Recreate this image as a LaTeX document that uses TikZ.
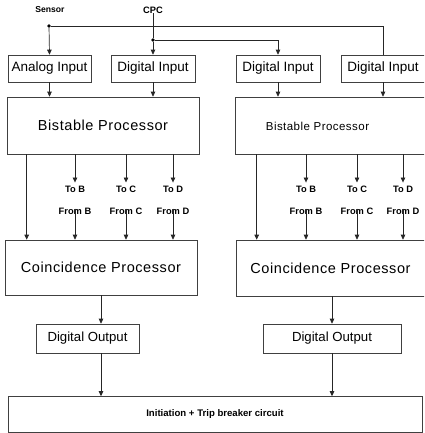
\documentclass[tikz,border=0pt]{standalone}
\usepackage{fontspec}
\setmainfont{Liberation Sans}
\newfontfamily\lsfont[LetterSpace=4]{Liberation Sans}
\usetikzlibrary{arrows.meta}
\tikzset{
  box/.style={draw=black!75, line width=0.6pt, inner sep=0pt, rectangle},
  arr/.style={-{Triangle[length=5pt,width=4.5pt]}, line width=0.7pt, black!85},
  ln/.style={line width=0.7pt, black!85},
  bigtxt/.style={font=\lsfont\fontsize{14.5}{16}\selectfont},
  midtxt/.style={font=\fontsize{13.5}{15}\selectfont},
  smalltxt/.style={font=\bfseries\fontsize{9.3}{11}\selectfont, inner sep=0pt},
  dot/.style={circle, fill=black, inner sep=0pt, minimum size=3.6pt}
}
\begin{document}
\begin{tikzpicture}[x=1pt,y=-1pt]
\useasboundingbox (0,0) rectangle (424,433);
\clip (0,0) rectangle (424,433);

% top labels and dots
\node[smalltxt, font=\bfseries\fontsize{8.6}{10}\selectfont] (sensor) at (50,10) {Sensor};
\node[smalltxt] (cpc) at (153,10) {CPC};
\node[dot] (s) at (49,26) {};
\node[dot] (c) at (153,40) {};

% input boxes
\node[box, midtxt, minimum width=83pt, minimum height=27pt] (ai) at (49.5,68.5) {Analog Input};
\node[box, midtxt, minimum width=84pt, minimum height=27pt] (di1) at (153,68.5) {Digital Input};
\node[box, midtxt, minimum width=84pt, minimum height=27pt] (di2) at (278,68.5) {Digital Input};
\node[box, midtxt, minimum width=84pt, minimum height=27pt] (di3) at (383,68.5) {Digital Input};

% bistable processors
\node[box, bigtxt, minimum width=192pt, minimum height=57pt] (bp1) at (103,125.5) {Bistable Processor};
\node[box, minimum width=210pt, minimum height=57pt] (bp2) at (340,125.5) {};
\node[font=\lsfont\fontsize{11.5}{13}\selectfont] (bp2t) at (317.5,126) {Bistable Processor};

% to / from labels
\foreach \n/\x/\l in {B1/75/B, C1/126/C, D1/173/D, B2/306/B, C2/357/C, D2/403/D}{
  \node[smalltxt] (to\n) at (\x,189) {To \l};
  \node[smalltxt] (from\n) at (\x,211) {From \l};
}

% coincidence processors
\node[box, bigtxt, minimum width=192pt, minimum height=55pt] (cp1) at (101,267.5) {Coincidence Processor};
\node[box, minimum width=210pt, minimum height=56pt] (cp2) at (341,268) {};
\node[bigtxt] (cp2t) at (330.5,268) {Coincidence Processor};

% digital outputs
\node[box, font=\fontsize{13.2}{15}\selectfont, minimum width=103pt, minimum height=29pt] (do1) at (87.5,338.5) {Digital Output};
\node[box, font=\fontsize{13.2}{15}\selectfont, minimum width=138pt, minimum height=29pt] (do2) at (332,338.5) {Digital Output};

% initiation
\node[box, minimum width=414pt, minimum height=36pt] (init) at (215,414.5) {};
\node[smalltxt, font=\bfseries\fontsize{9.6}{11}\selectfont] (initt) at (215,414.5) {Initiation + Trip breaker circuit};

% top connectors
\draw[ln] (cpc.south) -- (c);
\draw[arr] (c) -- (di1.north);
\draw[arr] (c) -| (di2.north);
\draw[arr] (s) -- (ai.north);
\draw[ln] (s) -| (di3.north);

% inputs to bistable
\draw[arr] (ai.south) -- (ai.south |- bp1.north);
\draw[arr] (di1.south) -- (di1.south |- bp1.north);
\draw[arr] (di2.south) -- (di2.south |- bp2.north);
\draw[arr] (di3.south) -- (di3.south |- bp2.north);

% bistable to coincidence direct
\draw[arr] ([xshift=20pt]bp1.south west) -- ([xshift=22pt]cp1.north west);
\draw[arr] ([xshift=22pt]bp2.south west) -- ([xshift=21pt]cp2.north west);

% to / from arrows
\foreach \n in {B1,C1,D1}{
  \draw[arr] (bp1.south -| to\n.north) -- ([yshift=3pt]to\n.north);
  \draw[arr] ([yshift=-1pt]from\n.north) -- (from\n.north |- cp1.north);
}
\foreach \n in {B2,C2,D2}{
  \draw[arr] (bp2.south -| to\n.north) -- ([yshift=3pt]to\n.north);
  \draw[arr] ([yshift=-1pt]from\n.north) -- (from\n.north |- cp2.north);
}

% outputs
\draw[arr] (cp1.south) -- (cp1.south |- do1.north);
\draw[arr] (cp1.south |- do1.south) -- (cp1.south |- init.north);
\draw[arr] (do2.north |- cp2.south) -- (do2.north);
\draw[arr] (do2.south) -- (do2.south |- init.north);
\end{tikzpicture}
\end{document}
